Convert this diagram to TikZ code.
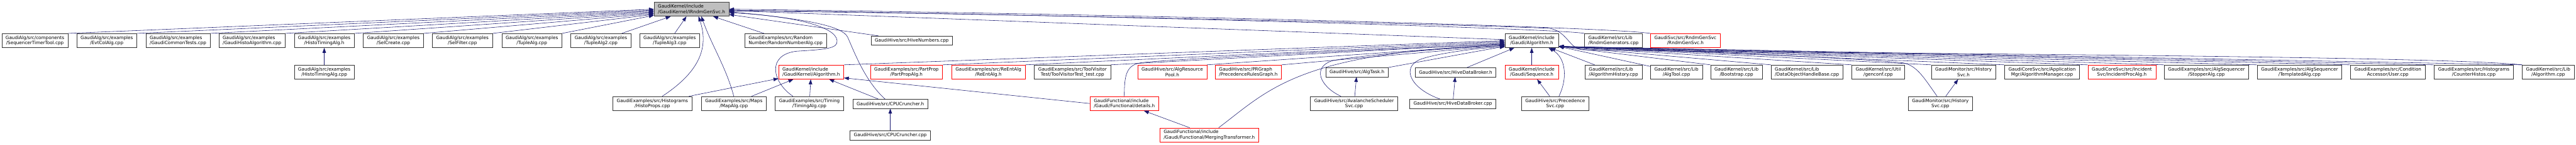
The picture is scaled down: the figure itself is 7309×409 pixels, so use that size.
\documentclass[tikz,border=0pt]{standalone}
\usepackage{fontspec}
\setmainfont{DejaVu Sans}
\usepackage{xcolor}
\usetikzlibrary{arrows.meta}
\definecolor{edgeblue}{HTML}{191970}
\definecolor{rootgray}{HTML}{BFBFBF}

\begin{document}
\begin{tikzpicture}[
      x=0.75pt, y=-0.75pt,
      font=\fontsize{9.7}{11}\selectfont, >={Triangle[length=10.5pt,width=7.5pt]},
      box/.style={draw=black!80, line width=0.75pt, inner xsep=8.2pt,
                  inner ysep=2pt, minimum height=30pt, align=center},
      lbox/.style={box, align=left},
      sbox/.style={box, minimum height=19.5pt},
      trunc/.style={draw=red},
      rootbox/.style={lbox, fill=rootgray, draw=black!75},
      incl/.style={->, draw=edgeblue, line width=0.75pt}
    ]
    \fill[white] (0,0) rectangle (7309,409);
    \useasboundingbox (0,0) rectangle (7309,409);

    \node[rootbox] (rndm) at (1962,26) {GaudiKernel/include\\/GaudiKernel/IRndmGenSvc.h};

    \node[box]  (seqtt)   at (99,115)   {GaudiAlg/src/components\\/SequencerTimerTool.cpp};
    \node[box]  (evtcol)  at (303,115)  {GaudiAlg/src/examples\\/EvtColAlg.cpp};
    \node[lbox] (comtst)  at (505,115)  {GaudiAlg/src/examples\\/GaudiCommonTests.cpp};
    \node[lbox] (histalg) at (715,115)  {GaudiAlg/src/examples\\/GaudiHistoAlgorithm.cpp};
    \node[box]  (htimh)   at (920,115)  {GaudiAlg/src/examples\\/HistoTimingAlg.h};
    \node[box]  (selcr)   at (1116,115) {GaudiAlg/src/examples\\/SelCreate.cpp};
    \node[box]  (selfl)   at (1312,115) {GaudiAlg/src/examples\\/SelFilter.cpp};
    \node[box]  (tup1)    at (1509,115) {GaudiAlg/src/examples\\/TupleAlg.cpp};
    \node[box]  (tup2)    at (1705,115) {GaudiAlg/src/examples\\/TupleAlg2.cpp};
    \node[box]  (tup3)    at (1900,115) {GaudiAlg/src/examples\\/TupleAlg3.cpp};
    \node[lbox] (randnum) at (2229,115) {GaudiExamples/src/Random\\Number/RandomNumberAlg.cpp};
    \node[sbox] (hivenum) at (2587,115) {GaudiHive/src/HiveNumbers.cpp};
    \node[box]  (galg)    at (4346,115) {GaudiKernel/include\\/Gaudi/Algorithm.h};
    \node[lbox] (rndmgen) at (4578,115) {GaudiKernel/src/Lib\\/RndmGenerators.cpp};
    \node[box,trunc] (rndmsvc) at (4782,115) {GaudiSvc/src/RndmGenSvc\\/RndmGenSvc.h};

    \node[box]  (htimcpp) at (920,204)  {GaudiAlg/src/examples\\/HistoTimingAlg.cpp};
    \node[lbox,trunc] (kalg) at (2301.5,204) {GaudiKernel/include\\/GaudiKernel/Algorithm.h};
    \node[box,trunc] (partprop) at (2572,204) {GaudiExamples/src/PartProp\\/PartPropAlg.h};
    \node[box,trunc] (reent) at (2804.5,204) {GaudiExamples/src/ReEntAlg\\/ReEntAlg.h};
    \node[box]  (toolvis) at (3043,204) {GaudiExamples/src/ToolVisitor\\Test/ToolVisitorTest\_test.cpp};
    \node[box,trunc] (respool) at (3326,204) {GaudiHive/src/AlgResource\\Pool.h};
    \node[lbox,trunc] (prgraph) at (3542,204) {GaudiHive/src/PRGraph\\/PrecedenceRulesGraph.h};
    \node[sbox] (algtask) at (3850,204.5) {GaudiHive/src/AlgTask.h};
    \node[sbox] (brokerh) at (4130,204.5) {GaudiHive/src/HiveDataBroker.h};
    \node[box,trunc] (seqh) at (4346,204) {GaudiKernel/include\\/Gaudi/Sequence.h};
    \node[lbox] (alghist) at (4578,204) {GaudiKernel/src/Lib\\/AlgorithmHistory.cpp};
    \node[box]  (algtool) at (4756.5,204) {GaudiKernel/src/Lib\\/AlgTool.cpp};
    \node[box]  (boot)    at (4927,204) {GaudiKernel/src/Lib\\/Bootstrap.cpp};
    \node[lbox] (dohb)    at (5127,204) {GaudiKernel/src/Lib\\/DataObjectHandleBase.cpp};
    \node[box]  (genconf) at (5329,204) {GaudiKernel/src/Util\\/genconf.cpp};
    \node[box]  (histsvch) at (5571,204) {GaudiMonitor/src/History\\Svc.h};
    \node[box]  (algmgr)  at (5794,204) {GaudiCoreSvc/src/Application\\Mgr/AlgorithmManager.cpp};
    \node[box,trunc] (incproc) at (6020.5,204) {GaudiCoreSvc/src/Incident\\Svc/IncidentProcAlg.h};
    \node[box]  (stopper) at (6260.5,204) {GaudiExamples/src/AlgSequencer\\/StopperAlg.cpp};
    \node[box]  (templ)   at (6524.5,204) {GaudiExamples/src/AlgSequencer\\/TemplatedAlg.cpp};
    \node[box]  (user)    at (6775,204) {GaudiExamples/src/Condition\\Accessor/User.cpp};
    \node[box]  (counter) at (7019,204) {GaudiExamples/src/Histograms\\/CounterHistos.cpp};
    \node[box]  (algcpp)  at (7230,204) {GaudiKernel/src/Lib\\/Algorithm.cpp};

    \node[box]  (hprops)  at (1851,293) {GaudiExamples/src/Histograms\\/HistoProps.cpp};
    \node[box]  (mapalg)  at (2082,293) {GaudiExamples/src/Maps\\/MapAlg.cpp};
    \node[box]  (timing)  at (2296.5,293) {GaudiExamples/src/Timing\\/TimingAlg.cpp};
    \node[sbox] (cpuh)    at (2526,294) {GaudiHive/src/CPUCruncher.h};
    \node[lbox,trunc] (details) at (3190,293) {GaudiFunctional/include\\/Gaudi/Functional/details.h};
    \node[box]  (avsched) at (3842,293) {GaudiHive/src/AvalancheScheduler\\Svc.cpp};
    \node[sbox] (brokercpp) at (4122,294) {GaudiHive/src/HiveDataBroker.cpp};
    \node[box]  (precsvc) at (4412.5,293) {GaudiHive/src/Precedence\\Svc.cpp};
    \node[box]  (histsvccpp) at (5505.6,293) {GaudiMonitor/src/History\\Svc.cpp};

    \node[sbox] (cpucpp)  at (2526,383) {GaudiHive/src/CPUCruncher.cpp};
    \node[lbox,trunc] (merging) at (3431,382) {GaudiFunctional/include\\/Gaudi/Functional/MergingTransformer.h};

    % includers of IRndmGenSvc.h
    \foreach \n/\k in {seqtt/0,evtcol/1.9,comtst/3.8,histalg/5.6,htimh/7.5,selcr/9.4,selfl/11.2,tup1/13.1}
      \draw[incl] (\n.north east) -- ([yshift=-\k pt]rndm.west);
    \foreach \n in {tup2,tup3,randnum,hivenum,galg}
      \draw[incl] (\n) -- (rndm);
    \draw[incl] ([xshift=21pt]hprops.north) .. controls (1990,200) and (2010,130) .. ([xshift=15pt]rndm.south);
    \draw[incl] (mapalg.north) .. controls (2060,190) and (2020,130) .. ([xshift=21pt]rndm.south);
    \draw[incl] ([xshift=-35pt]timing.north) .. controls (2190,232) and (2175,155) .. (2260,145)
        .. controls (2340,140) and (2378,138) .. (2375,115)
        .. controls (2372,75) and (2250,45) .. ([yshift=-7.5pt]rndm.east);
    \draw[incl] ([xshift=-11pt]cpuh.north) .. controls (2455,230) and (2425,150) .. (2405,105)
        .. controls (2390,75) and (2300,55) .. ([yshift=-5.25pt]rndm.east);
    \draw[incl] (rndmgen.north west) .. controls (4420,80) and (3000,40) .. ([yshift=-2pt]rndm.east);
    \draw[incl] (rndmsvc.north west) .. controls (4550,75) and (3200,40) .. (rndm.east);
    \draw[incl] (algcpp.north west) .. controls (6900,156) and (5000,150) .. (4492,141)
        .. controls (4452,140) and (4448,88) .. (4395,80)
        .. controls (4000,65) and (2700,36) .. ([yshift=-3.75pt]rndm.east);

    % includers of Gaudi/Algorithm.h
    \foreach \n/\k in {kalg/0,partprop/2,reent/4,toolvis/6,respool/8,prgraph/10,algtask/12}
      \draw[incl] (\n.north east) -- ([yshift=-\k pt]galg.west);
    \draw[incl] (details.north) .. controls (3190,215) and (3195,185) .. (3235,178)
        .. controls (3300,168) and (3900,140) .. ([yshift=-7pt]galg.west);
    \draw[incl] ([xshift=20pt]merging.north) .. controls (3600,255) and (3680,150) .. ([yshift=-9pt]galg.west);
    \draw[incl] ([xshift=-28pt]avsched.north) .. controls (3745,245) and (3722,190) .. (3780,172)
        .. controls (3830,160) and (4100,135) .. ([yshift=-11pt]galg.west);
    \draw[incl] ([xshift=-27pt]brokercpp.north) .. controls (4000,250) and (3975,190) .. (4030,168)
        .. controls (4080,150) and (4200,135) .. ([yshift=-13.5pt]galg.west);
    \foreach \n in {brokerh,seqh,alghist,algtool}
      \draw[incl] (\n) -- (galg);
    \draw[incl] ([xshift=8pt]precsvc.north) .. controls (4447,225) and (4445,165) .. ([xshift=36pt]galg.south);
    \foreach \n in {boot,dohb,genconf,histsvch,algmgr,incproc,stopper,templ,user,counter,algcpp}
      \draw[incl] (\n.north west) -- ([yshift=3pt]galg.south east);
    \draw[incl] ([xshift=-7pt]histsvccpp.north) .. controls (5460,222) and (5440,186) .. (5400,178)
        .. controls (5300,166) and (4700,140) .. ([yshift=3pt]galg.south east);

    % includers of GaudiKernel/Algorithm.h
    \foreach \n in {hprops,mapalg,timing,cpuh}
      \draw[incl] (\n) -- (kalg);
    \draw[incl] (details.west) -- ([yshift=3pt]kalg.south east);

    \draw[incl] (htimcpp) -- (htimh);
    \draw[incl] (cpucpp) -- (cpuh);
    \draw[incl] (avsched) -- (algtask);
    \draw[incl] (brokercpp) -- (brokerh);
    \draw[incl] (precsvc) -- (seqh);
    \draw[incl] (histsvccpp) -- (histsvch);
    \draw[incl] (merging) -- (details);
  \end{tikzpicture}
\end{document}
